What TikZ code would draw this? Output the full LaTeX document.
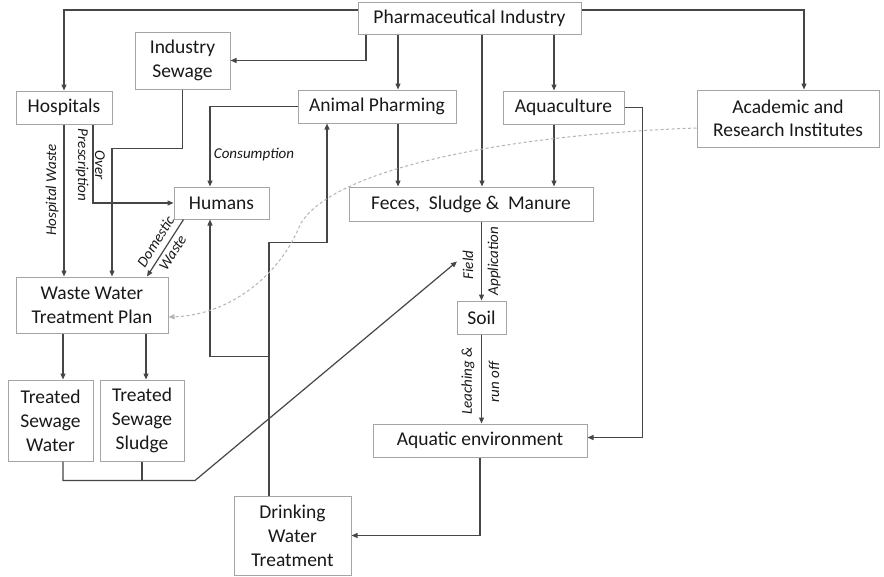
\documentclass[tikz,border=0pt]{standalone}
\usepackage{fontspec}
\setmainfont{Carlito}
\usetikzlibrary{arrows.meta,calc}
\definecolor{boxgray}{RGB}{165,165,165}
\definecolor{linegray}{RGB}{70,70,70}
\definecolor{txtgray}{RGB}{25,25,25}
\definecolor{dashgray}{RGB}{180,180,180}
\begin{document}
\begin{tikzpicture}[x=1pt,y=-1pt,
  box/.style={draw=boxgray, line width=1pt, fill=white, inner sep=0pt, align=center,
    font=\fontsize{19.5}{24}\selectfont, text=txtgray},
  conn/.style={draw=linegray, line width=1.2pt},
  arr/.style={conn, -{Triangle[length=6pt,width=5pt]}},
  lbl/.style={font=\fontsize{15}{18}\selectfont\itshape, inner sep=0pt, text=txtgray},
]
\useasboundingbox[fill=white] (0,0) rectangle (884,576);

% boxes
\node[box, minimum width=223pt, minimum height=32pt] (pharma) at (469.5,18) {Pharmaceutical Industry};
\node[box, minimum width=95pt, minimum height=57pt] (indsew) at (182.5,60.5) {Industry\\Sewage};
\node[box, minimum width=96pt, minimum height=33pt] (hosp) at (64,107.5) {Hospitals};
\node[box, minimum width=158pt, minimum height=33pt] (animal) at (377,106.5) {Animal Pharming};
\node[box, minimum width=121pt, minimum height=33pt] (aqua) at (563.5,107.5) {Aquaculture};
\node[box, minimum width=182pt, minimum height=57pt, font=\fontsize{19.5}{23}\selectfont] (acad) at (788,118.5) {Academic and\\Research Institutes};
\node[box, minimum width=95pt, minimum height=32pt] (humans) at (221.5,203) {Humans};
\node[box, minimum width=244pt, minimum height=34pt] (feces) at (471,204) {Feces,\ \ Sludge \&\ \ Manure};
\node[box, minimum width=152pt, minimum height=56pt] (wwtp) at (92,305) {Waste Water\\Treatment Plan};
\node[box, minimum width=49pt, minimum height=33pt] (soil) at (481.5,317.5) {Soil};
\node[box, minimum width=85pt, minimum height=81pt] (tsw) at (50.5,420.5) {Treated\\Sewage\\Water};
\node[box, minimum width=84pt, minimum height=81pt] (tss) at (142,420.5) {Treated\\Sewage\\Sludge};
\node[box, minimum width=214pt, minimum height=33pt] (aquatic) at (480,440.5) {Aquatic environment};
\node[box, minimum width=117pt, minimum height=79pt] (drink) at (292.5,535.5) {Drinking\\Water\\Treatment};

% helper coordinates
\coordinate (a1) at ([xshift=21pt]animal.north);
\coordinate (f1) at ([xshift=11pt]feces.north);
\coordinate (q1) at ([xshift=-9.5pt]aqua.north);
\coordinate (w1) at ([xshift=20pt]wwtp.north);
\coordinate (d1) at ([xshift=-23.5pt]drink.north);
\coordinate (j1) at ([yshift=139pt]d1);
\coordinate (j2) at ([yshift=253pt]d1);
\coordinate (fa) at ([xshift=-24.5pt,yshift=39pt]soil.north);

% connectors from the industry
\draw[arr] ([yshift=8pt]pharma.west) -| (hosp.north);
\draw[arr] ([xshift=-103.5pt]pharma.south) |- (indsew.east);
\draw[arr] (pharma.south -| a1) -- (a1);
\draw[arr] (pharma.south -| f1) -- (f1);
\draw[arr] (pharma.south -| q1) -- (q1);
\draw[arr] ([yshift=8pt]pharma.east) -| ([xshift=16pt]acad.north);

% other flows
\draw[arr] (indsew.south) -- ++(0,59) -| (w1);
\draw[arr] (hosp.south) -- (wwtp.north -| hosp.south);
\draw[arr] ([xshift=29pt]hosp.south) |- (humans.west);
\draw[arr] (animal.west) -| ([xshift=-11.5pt]humans.north);
\draw[arr] (animal.south -| a1) -- (feces.north -| a1);
\draw[arr] (aqua.south -| q1) -- (feces.north -| q1);
\draw[arr] (aqua.east) -- ++(18,0) |- ([yshift=3pt]aquatic.east);
\draw[arr] ([xshift=10pt]humans.south west) -- ([xshift=55pt]wwtp.north);
\draw[arr] (feces.south -| soil.north) -- (soil.north);
\draw[arr] (soil.south) -- (aquatic.north -| soil.south);
\draw[arr] (aquatic.south) |- (drink.east);
\draw[arr] (d1) -- (j1) -| ([xshift=-11.5pt]humans.south);
\draw[arr] (j1) -- (j2) -| ([xshift=-50pt]animal.south);
\draw[arr] ([xshift=12.5pt]wwtp.south -| tsw.north) -- ([xshift=12.5pt]tsw.north);
\draw[arr] ([xshift=4pt]wwtp.south -| tss.north) -- ([xshift=4pt]tss.north);
\draw[arr] ([xshift=12.5pt]tsw.south) -- ++(0,19) -- ++(132,0) -- (fa);
\draw[conn] (tss.south) -- ++(0,19);

% dashed link
\draw[draw=dashgray, line width=1pt, dash pattern=on 3pt off 2.5pt, -{Triangle[length=6pt,width=5pt,fill=dashgray]}]
  ([yshift=-9.5pt]acad.west) .. controls (500,135) and (330,170) .. (300,225)
  .. controls (280,275) and (230,315) .. ([yshift=-12pt]wwtp.east);

% labels
\node[lbl, rotate=90] (lhw) at (52,190) {Hospital Waste};
\node[lbl, rotate=-90] (lover) at (100,165) {Over};
\node[lbl, rotate=-90] (lpres) at (82,165) {Prescription};
\node[lbl] (lcons) at (254,155) {Consumption};
\node[lbl, rotate=57.5, align=center, font=\fontsize{15}{20}\selectfont\itshape] (ldom) at (164,247) {Domestic\\Waste};
\node[lbl, rotate=90] (lfield) at (468,265) {Field};
\node[lbl, rotate=90] (lapp) at (494,261) {Application};
\node[lbl, rotate=90] (lleach) at (468,381) {Leaching \&};
\node[lbl, rotate=90] (lrun) at (494,382) {run off};
\end{tikzpicture}
\end{document}
